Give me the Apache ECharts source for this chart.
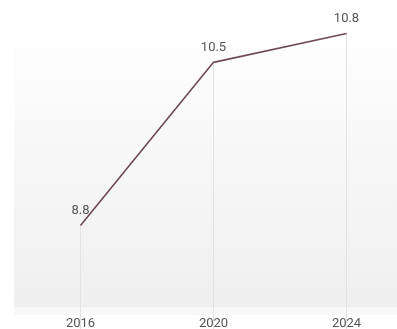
<!DOCTYPE html>
<html>
<head>
<meta charset="utf-8">
<script src="https://cdn.jsdelivr.net/npm/echarts@6/dist/echarts.min.js"></script>
<style>
  html, body { margin: 0; padding: 0; background: #ffffff; }
  #chart { width: 397px; height: 329px; }
</style>
</head>
<body>
<div id="chart"></div>
<script>
// Years on the horizontal axis and the value for each year
const years = ['2016', '2020', '2024'];
const values = [8.8, 10.5, 10.8];

const chart = echarts.init(document.getElementById('chart'), null, { renderer: 'canvas' });

chart.setOption({
  animation: false,
  backgroundColor: '#ffffff',
  grid: {
    show: true,
    left: 14,
    width: 399,
    top: 47,
    bottom: 22,
    outerBoundsMode: 'none',
    containLabel: false,
    borderWidth: 0,
    backgroundColor: new echarts.graphic.LinearGradient(0, 0, 0, 1, [
      { offset: 0, color: '#fdfdfd' },
      { offset: 1, color: '#efefef' }
    ])
  },
  xAxis: {
    type: 'category',
    data: years,
    boundaryGap: true,
    offset: 4,
    axisLine: { show: true, lineStyle: { color: '#f8f8f8', width: 8, cap: 'butt' } },
    axisTick: { show: false },
    splitLine: { show: false },
    axisLabel: {
      color: '#555555',
      fontFamily: 'Roboto',
      fontSize: 13,
      margin: 6
    }
  },
  yAxis: {
    type: 'value',
    min: 7.95,
    max: 10.66,
    show: false,
    splitLine: { show: false }
  },
  series: [
    {
      // thin drop lines from each point down to the axis
      type: 'bar',
      data: values,
      barWidth: 1,
      clip: false,
      silent: true,
      itemStyle: { color: '#e2e2e2' },
      z: 1
    },
    {
      type: 'line',
      data: values,
      clip: false,
      symbol: 'circle',
      symbolSize: 2,
      showSymbol: true,
      itemStyle: { color: 'rgba(0,0,0,0)' },
      lineStyle: { color: '#6e4a55', width: 1.6 },
      label: {
        show: true,
        position: 'top',
        distance: 7,
        color: '#555555',
        fontFamily: 'Roboto',
        fontSize: 13
      },
      z: 3
    }
  ]
});
</script>
</body>
</html>
